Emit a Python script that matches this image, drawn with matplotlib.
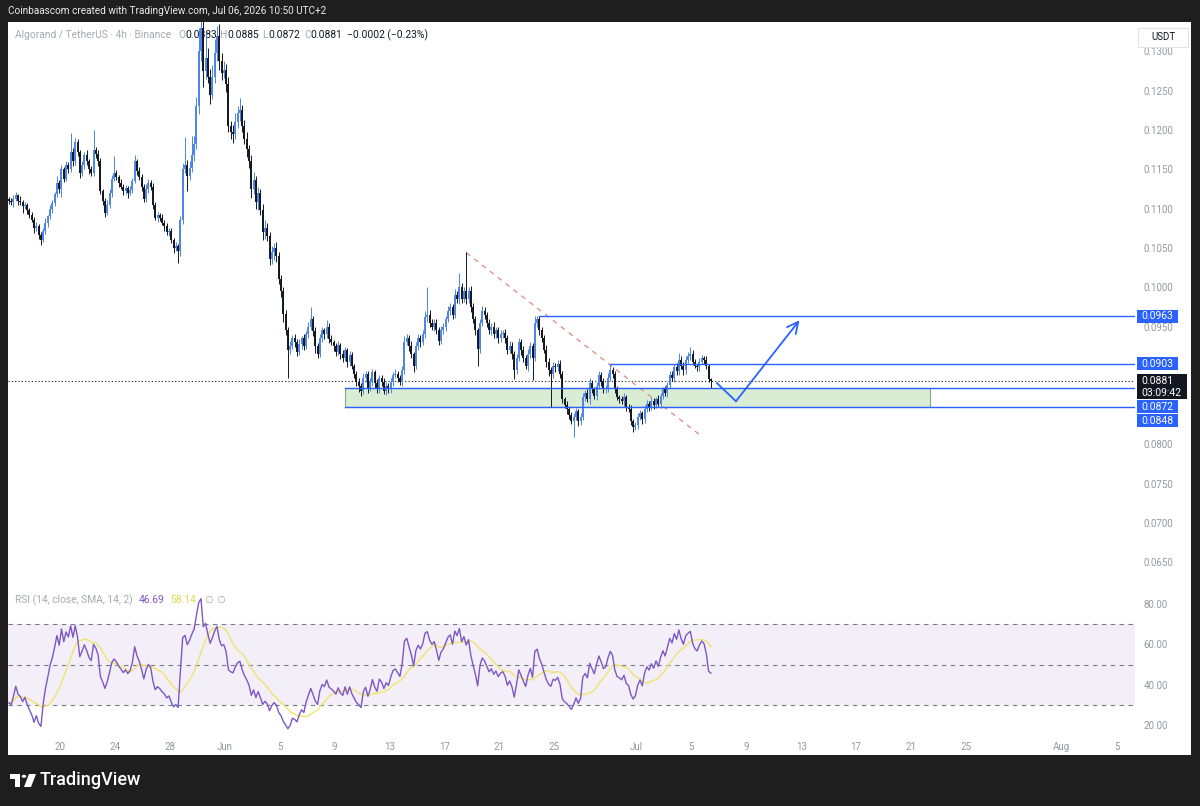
import numpy as np
import pandas as pd
import matplotlib
matplotlib.use('Agg')
import matplotlib.pyplot as plt
import matplotlib.dates as mdates
from matplotlib.patches import Rectangle, Polygon, Circle

plt.rcParams['font.family'] = ['Roboto', 'DejaVu Sans']

# ALGO/USDT 4h candles, times in UTC+2, prices in units of 0.0001 USDT
first_candle = '2026-05-16 06:00'
first_open = 1112
closes = [
    1110, 1108, 1112, 1117, 1110, 1108, 1103, 1105, 1098, 1092,
    1086, 1075, 1078, 1066, 1060, 1072, 1082, 1090, 1100, 1107,
    1118, 1133, 1125, 1150, 1138, 1155, 1150, 1172, 1160, 1185,
    1172, 1145, 1155, 1168, 1160, 1150, 1145, 1175, 1170, 1160,
    1122, 1110, 1095, 1105, 1120, 1138, 1145, 1140, 1133, 1128,
    1122, 1126, 1120, 1124, 1135, 1160, 1148, 1140, 1128, 1112,
    1125, 1133, 1128, 1105, 1088, 1092, 1088, 1082, 1078, 1070,
    1072, 1060, 1050, 1052, 1046,
    1085, 1150, 1156, 1142, 1152, 1168, 1182, 1230, 1300, 1330,
    1275, 1292, 1268, 1245, 1268, 1298, 1320, 1288, 1272, 1276,
    1258, 1205, 1198, 1195, 1210, 1222, 1226, 1205, 1188, 1176,
    1160, 1125, 1136, 1108, 1120, 1098, 1070, 1076, 1065, 1036,
    1045, 1050, 1040, 1010, 995, 966,
    945, 920, 925, 936, 930, 918, 928, 935, 925, 940,
    950, 960, 944, 925, 915, 935, 945, 940, 950, 934,
    930, 925, 918, 926, 915, 910, 920, 905, 914, 900,
    890, 880, 875, 868, 885, 890, 872, 880, 892, 878,
    870, 885, 880, 868, 875, 870, 880, 888, 890, 885,
    880, 895,
    930, 935, 925, 915, 900, 925, 935, 930, 940, 962,
    965, 955, 950, 955, 945, 932, 945, 950, 960, 970,
    975, 965, 990, 985, 1000, 985, 995, 985, 995, 975,
    960, 945, 922, 955, 970, 965, 955, 945, 950, 940,
    945, 935, 940, 942, 935, 920, 925, 915, 895, 910,
    930, 920, 910, 900, 915, 925, 910, 955, 960, 945,
    935, 920, 905, 895, 890, 900, 898, 902, 890,
    858, 850, 845, 838, 830, 835, 842, 830, 835, 860,
    865, 858, 878, 870, 862, 875, 888, 880, 870, 872,
    885, 895, 890, 870, 860, 858, 855, 860, 848, 845,
    830, 822, 825, 835, 840, 832, 845, 852, 848, 855,
    850, 858, 852, 862, 870, 865, 876, 888, 884, 898,
    893, 908, 900, 895, 908, 912, 915, 905, 900, 898,
    905, 910, 908, 900, 883, 881,
]
upper_wick = [
    3, 4, 5, 4, 2, 6, 3, 4, 2, 3, 4, 3, 5, 2, 4, 3, 6, 2, 5, 4,
    3, 8, 4, 6, 3, 5, 4, 24, 5, 5, 4, 3, 5, 4, 6, 3, 4, 25, 3, 4,
    5, 3, 4, 6, 5, 5, 22, 4, 3, 5, 3, 4, 3, 5, 4, 8, 3, 5, 4, 3,
    6, 5, 3, 4, 3, 4, 3, 5, 3, 4, 3, 4, 3, 5, 3,
    5, 8, 35, 6, 8, 25, 10, 12, 30, 40, 15, 30, 12, 10, 15, 18, 12, 15, 10, 12,
    8, 10, 6, 8, 12, 8, 15, 6, 8, 10, 5, 8, 10, 6, 8, 5, 8, 10, 6, 5,
    8, 6, 8, 5, 6, 5,
    5, 4, 6, 3, 5, 4, 6, 3, 5, 4, 6, 15, 3, 5, 4, 6, 5, 3, 8, 4,
    5, 3, 4, 6, 3, 5, 4, 3, 5, 4, 3, 4, 5, 3, 6, 4, 3, 5, 4, 3,
    5, 4, 3, 5, 4, 3, 5, 4, 6, 3, 4, 5,
    8, 5, 4, 6, 3, 5, 6, 4, 5, 8, 35, 6, 5, 4, 5, 4, 6, 5, 4, 6,
    5, 4, 8, 5, 18, 6, 5, 50, 5, 6, 5, 4, 3, 5, 6, 5, 4, 5, 4, 6,
    5, 4, 5, 4, 5, 4, 6, 5, 4, 5, 6, 4, 5, 4, 6, 5, 4, 8, 4, 3,
    5, 4, 6, 5, 4, 5, 4, 6, 5,
    4, 3, 5, 4, 3, 5, 4, 3, 5, 6, 4, 5, 6, 4, 3, 5, 6, 4, 5, 4,
    6, 8, 3, 4, 5, 3, 4, 5, 3, 4, 5, 3, 4, 5, 4, 3, 5, 4, 3, 5,
    4, 3, 5, 4, 3, 5, 4, 6, 5, 4, 6, 9, 4, 5, 4, 6, 9, 5, 4, 3,
    5, 4, 3, 4, 3, 2,
]
lower_wick = [
    4, 3, 6, 2, 5, 4, 8, 3, 5, 4, 3, 6, 4, 5, 6, 3, 4, 5, 3, 6,
    4, 3, 5, 10, 4, 3, 5, 3, 6, 4, 5, 6, 3, 5, 4, 6, 3, 4, 5, 6,
    4, 5, 6, 3, 4, 5, 3, 4, 6, 3, 5, 4, 6, 3, 4, 3, 5, 4, 6, 4,
    3, 5, 4, 6, 3, 5, 4, 3, 6, 4, 5, 4, 6, 4, 15,
    6, 4, 5, 20, 6, 5, 8, 6, 10, 12, 20, 10, 8, 12, 6, 8, 10, 12, 8, 6,
    10, 8, 10, 12, 6, 8, 10, 8, 6, 10, 8, 12, 6, 8, 10, 6, 10, 8, 6, 8,
    6, 10, 8, 6, 8, 10,
    6, 35, 5, 4, 6, 5, 4, 6, 5, 4, 5, 4, 6, 8, 5, 4, 5, 6, 4, 5,
    4, 6, 5, 4, 6, 5, 4, 6, 5, 4, 6, 5, 8, 6, 4, 5, 6, 4, 5, 6,
    4, 5, 6, 4, 5, 4, 5, 6, 4, 5, 4, 5,
    5, 4, 6, 5, 8, 4, 5, 6, 4, 5, 6, 5, 4, 6, 5, 6, 4, 5, 6, 4,
    5, 6, 4, 5, 6, 5, 4, 6, 5, 6, 5, 6, 22, 5, 4, 6, 5, 4, 6, 5,
    4, 6, 5, 4, 6, 5, 4, 6, 12, 5, 4, 6, 5, 4, 6, 5, 28, 4, 5, 6,
    5, 4, 6, 8, 42, 5, 6, 4, 5,
    5, 4, 6, 5, 4, 20, 4, 6, 5, 4, 5, 4, 6, 5, 4, 5, 4, 6, 5, 4,
    5, 4, 6, 5, 4, 5, 4, 6, 5, 4, 5, 6, 4, 5, 4, 6, 5, 4, 5, 4,
    5, 4, 3, 5, 4, 3, 5, 4, 3, 5, 4, 5, 4, 6, 5, 4, 5, 4, 3, 5,
    4, 3, 5, 4, 3, 9,
]
rsi_at_left_edge = 32  # RSI value read at the first visible bar

# drawings on the chart
resistance_1 = 0.0963
resistance_2 = 0.0903
zone_top = 0.0872
zone_bottom = 0.0848
countdown = '03:09:42'

tick_dates = ['2026-05-20', '2026-05-24', '2026-05-28', '2026-06-01', '2026-06-05',
              '2026-06-09', '2026-06-13', '2026-06-17', '2026-06-21', '2026-06-25',
              '2026-07-01', '2026-07-05', '2026-07-09', '2026-07-13', '2026-07-17',
              '2026-07-21', '2026-07-25', '2026-08-01', '2026-08-05']
tick_labels = ['20', '24', '28', 'Jun', '5', '9', '13', '17', '21', '25',
               'Jul', '5', '9', '13', '17', '21', '25', 'Aug', '5']
# 0.0850 / 0.0900 sit under the level labels, so they are not shown
price_ticks = [0.0650, 0.0700, 0.0750, 0.0800, 0.0950, 0.1000,
               0.1050, 0.1100, 0.1150, 0.1200, 0.1250, 0.1300]
rsi_ticks = [20, 40, 60, 80]

# ---- derived series
times = pd.date_range(first_candle, periods=len(closes), freq='4h')
x = mdates.date2num(times)
c = np.array(closes) / 1e4
o = np.r_[first_open, closes[:-1]] / 1e4
hi = np.maximum(o, c) + np.array(upper_wick) / 1e4
lo = np.minimum(o, c) - np.array(lower_wick) / 1e4

# Wilder RSI(14), state seeded so the first bar matches the chart
chg = np.diff(np.r_[o[0], c])
move = np.abs(chg[:14]).mean()
g, l = move * rsi_at_left_edge / 100, move * (1 - rsi_at_left_edge / 100)
rsi = []
for ch in chg:
    g = (g * 13 + max(ch, 0)) / 14
    l = (l * 13 + max(-ch, 0)) / 14
    rsi.append(100 - 100 / (1 + g / l))
rsi = pd.Series(rsi)
rsi_ma = rsi.rolling(14, min_periods=1).mean()

def d(s):
    return mdates.date2num(pd.Timestamp(s))

# ---- figure layout (pixel based)
W, H = 1200, 806
BG = '#1e1e1e'
BLUE = '#2962ff'
UP = '#4d84e6'
DOWN = '#131722'
GREY = '#9598a1'

fig = plt.figure(figsize=(12, 8.06), dpi=100, facecolor=BG)

def box(l, t, r, b):
    return [l / W, 1 - b / H, (r - l) / W, (b - t) / H]

fig.add_artist(Rectangle((8 / W, 1 - 755 / H), (1191 - 8) / W, (755 - 22) / H,
                         transform=fig.transFigure, fc='white', ec='none', zorder=-1))

ax = fig.add_axes(box(8, 22, 1135, 590))
ax2 = fig.add_axes(box(8, 590, 1135, 736), sharex=ax)
for a in (ax, ax2):
    a.set_facecolor('none')
    for s in a.spines.values():
        s.set_visible(False)
    a.yaxis.tick_right()
    a.tick_params(axis='y', length=0, pad=6, labelsize=7, labelcolor=GREY)

x0 = d('2026-06-01') - 15.816
right = x0 + 82.146
ax.set_xlim(x0, right)
ax.set_ylim(0.06149, 0.13374)
ax.set_yticks(price_ticks)
ax.set_yticklabels([f'{p:.4f}' for p in price_ticks])
ax.tick_params(axis='x', bottom=False, labelbottom=False)

# candles
cols = np.where(c >= o, UP, DOWN)
ax.vlines(x, lo, hi, colors=cols, lw=0.7, zorder=3)
b_lo = np.minimum(o, c)
b_hi = np.maximum(np.maximum(o, c), b_lo + 0.00005)
ax.vlines(x, b_lo, b_hi, colors=cols, lw=1.4, zorder=3)

# last price line
ax.axhline(c[-1], color=DOWN, lw=0.8, ls=(0, (1, 2)), zorder=2)

# trendline, levels, zone, projected path
ax.plot([d('2026-06-18 14:00'), d('2026-07-05 15:00')], [0.1044, 0.0812],
        color='#d98c80', lw=0.9, ls=(0, (4, 4)), zorder=2)
ax.plot([d('2026-06-23 22:00'), right], [resistance_1] * 2, color=BLUE, lw=1.0, zorder=4)
ax.plot([d('2026-06-29 02:00'), right], [resistance_2] * 2, color=BLUE, lw=1.0, zorder=4)
z0, z1 = d('2026-06-09 18:00'), d('2026-07-22 09:00')
ax.add_patch(Rectangle((z0, zone_bottom), z1 - z0, zone_top - zone_bottom,
                       fc='#d8edd3', ec='#7fae7a', lw=0.8, zorder=1))
ax.plot([z0, right], [zone_top] * 2, color=BLUE, lw=1.0, zorder=4)
ax.plot([z0, right], [zone_bottom] * 2, color=BLUE, lw=1.0, zorder=4)
path_t = [d('2026-07-06 20:40'), d('2026-07-08 05:50'), d('2026-07-12 21:00')]
path_p = [0.0878, 0.0855, 0.0958]
ax.plot(path_t[:2], path_p[:2], color=BLUE, lw=1.3, zorder=4)
ax.annotate('', xy=(path_t[2], path_p[2]), xytext=(path_t[1], path_p[1]),
            arrowprops=dict(arrowstyle='->,head_length=0.8,head_width=0.4',
                            color=BLUE, lw=1.3, shrinkA=0, shrinkB=0), zorder=4)

# ---- RSI pane
ax2.set_ylim(14.65, 86.9)
ax2.set_yticks(rsi_ticks)
ax2.set_yticklabels([f'{v:.2f}' for v in rsi_ticks])
ax2.axhspan(30, 70, color='#7e57c2', alpha=0.09, lw=0)
for lvl in (70, 50, 30):
    ax2.axhline(lvl, color='#787b86', lw=0.8, ls=(0, (4, 4)))
ax2.plot(x, rsi_ma, color='#f0e36c', lw=1.0)
ax2.plot(x, rsi, color='#7e57c2', lw=1.0)
ax2.set_xticks([d(t) for t in tick_dates])
ax2.set_xticklabels(tick_labels)
ax2.tick_params(axis='x', length=0, pad=4, labelsize=7, labelcolor=GREY)

# ---- texts
def ftext(a, xp, yp, s, **kw):
    kw.setdefault('fontsize', 7)
    kw.setdefault('va', 'center')
    a.text(xp / W, 1 - yp / H, s, transform=fig.transFigure, **kw)

ftext(fig, 8, 11, 'Coinbaascom created with TradingView.com, Jul 06, 2026 10:50 UTC+2',
      color='#ececec', fontsize=7.2)
LG = '#a6a9b1'
legend = [(15, 'Algorand / TetherUS · 4h · Binance', LG),
          (178, 'O', LG), (185, f'{o[-1]:.4f}', DOWN),
          (219, 'H', LG), (227, f'{hi[-1]:.4f}', DOWN),
          (262, 'L', LG), (268, f'{lo[-1]:.4f}', DOWN),
          (304, 'C', LG), (310, f'{c[-1]:.4f}', DOWN),
          (347, '−0.0002 (−0.23%)', DOWN)]
for xp, s, col in legend:
    ftext(ax, xp, 35, s, color=col, fontsize=7.4, zorder=1)

rsi_title = [(15, 'RSI (14, close, SMA, 14, 2)', LG), (139, '46.69', '#7e57c2'),
             (170, '58.14', '#e3d84a'), (204, '∅', LG), (216, '∅', LG)]
for xp, s, col in rsi_title:
    ftext(ax2, xp, 600, s, color=col, fontsize=7.4, zorder=1)

# price scale labels
def fig_rect(l, t, w, h, **kw):
    fig.add_artist(Rectangle((l / W, 1 - (t + h) / H), w / W, h / H,
                             transform=fig.transFigure, **kw))

fig_rect(1138, 28, 50, 19, fc='white', ec='#e0e3eb', lw=0.8, zorder=5)
ftext(fig, 1163, 37.5, 'USDT', color=DOWN, ha='center', zorder=6)

scale_labels = [(resistance_1, BLUE, [f'{resistance_1:.4f}']),
                (resistance_2, BLUE, [f'{resistance_2:.4f}']),
                (c[-1], DOWN, [f'{c[-1]:.4f}', countdown]),
                (zone_top, BLUE, [f'{zone_top:.4f}']),
                (zone_bottom, BLUE, [f'{zone_bottom:.4f}'])]
prev_bottom = -1e9
for lvl, col, lines in sorted(scale_labels, key=lambda t: -t[0]):
    yl = H - ax.transData.transform((x[0], lvl))[1]
    h = 13 if len(lines) == 1 else 25
    w = 41 if len(lines) == 1 else 50
    top = max(yl - 6.5, prev_bottom + 1)
    fig_rect(1137, top, w, h, fc=col, ec='none', zorder=5)
    for k, s in enumerate(lines):
        ftext(fig, 1141, top + 6.5 + 12.5 * k, s, color='white', fontsize=7.5, zorder=6)
    prev_bottom = top + h

# TradingView footer
lx, ly = 10, 774
fig.add_artist(Polygon([((lx + px) / W, 1 - (ly + py) / H) for px, py in
                        [(0, 0), (10, 0), (10, 13), (5, 13), (5, 4.5), (0, 4.5)]],
                       closed=True, transform=fig.transFigure, fc='white', ec='none'))
fig.add_artist(Circle(((lx + 14) / W, 1 - (ly + 2.3) / H), 2.3 / W,
                      transform=fig.transFigure, fc='white', ec='none'))
fig.add_artist(Polygon([((lx + px) / W, 1 - (ly + py) / H) for px, py in
                        [(19, 0), (26, 0), (21, 13), (14, 13)]],
                       closed=True, transform=fig.transFigure, fc='white', ec='none'))
ftext(fig, 40, 780, 'TradingView', color='white', fontsize=13, fontweight='medium')

fig.savefig('out.png', dpi=100, facecolor=BG)
